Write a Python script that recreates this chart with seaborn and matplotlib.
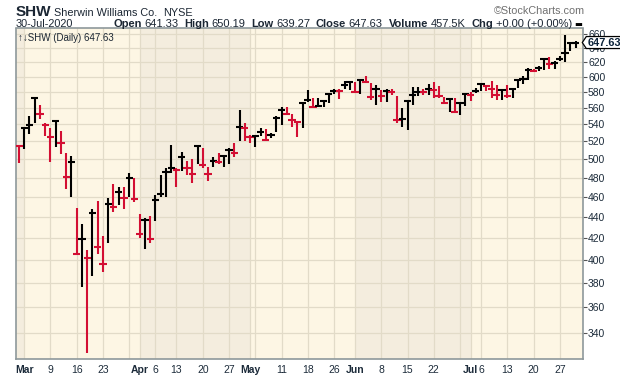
import matplotlib
matplotlib.use("Agg")
import numpy as np
import pandas as pd
import matplotlib.pyplot as plt
import seaborn as sns
from matplotlib.patches import Polygon

symbol = "SHW"
company = "Sherwin Williams Co."
exchange = "NYSE"
last_date = "30-Jul-2020"
last_open = 641.33
volume_text = "457.5K"
change_text = "+0.00 (+0.00%)"
prev_close = 520.0  # close before the first bar

highs = [515.1, 536.2, 550.3, 573.6, 563.9, 541.4, 535.4, 544.6, 532.2, 506.5,
         503.5, 448.6, 433.0, 408.7, 447.6, 455.7, 421.7, 458.4, 472.9, 470.4,
         469.7, 484.6, 479.5, 442.7, 438.5, 440.7, 461.8, 482.8, 490.0, 516.0,
         490.0, 507.6, 498.0, 500.2, 515.1, 512.2, 491.1, 502.8, 506.5, 504.7,
         512.2, 517.9, 557.6, 542.2, 527.6, 527.6, 535.4, 534.2, 530.2, 550.3,
         560.9, 561.7, 552.7, 543.4, 568.0, 582.9, 572.3, 572.3, 570.1, 578.7,
         584.2, 583.8, 595.1, 594.7, 593.8, 596.9, 601.3, 591.7, 589.5, 582.9,
         583.8, 583.8, 575.2, 559.7, 569.2, 586.4, 586.4, 583.8, 590.8, 593.8,
         588.1, 573.6, 572.3, 572.3, 568.0, 578.7, 580.0, 585.1, 591.7, 589.9,
         595.1, 589.9, 584.6, 589.1, 585.5, 596.4, 600.9, 612.0, 610.7, 614.4,
         625.8, 626.8, 621.2, 628.2, 659.0, 648.0, 650.19]

lows = [495.5, 511.0, 528.4, 542.2, 546.3, 526.7, 497.2, 513.3, 505.4, 468.3,
        460.1, 403.9, 376.3, 325.0, 386.1, 404.8, 389.5, 414.9, 444.6, 451.6,
        448.0, 460.1, 455.0, 419.5, 409.9, 414.9, 436.1, 460.1, 460.1, 485.2,
        470.4, 487.4, 482.8, 473.9, 494.7, 490.6, 476.7, 491.7, 494.7, 491.7,
        494.7, 502.8, 520.9, 520.9, 517.9, 514.0, 526.4, 520.9, 523.7, 531.4,
        539.4, 551.5, 537.4, 525.6, 536.2, 568.0, 559.7, 560.9, 560.9, 566.0,
        577.8, 571.0, 583.8, 582.9, 578.7, 577.4, 591.7, 570.1, 563.9, 568.0,
        568.0, 576.5, 542.2, 537.4, 533.4, 563.9, 575.2, 576.5, 576.5, 572.3,
        572.3, 565.1, 555.5, 554.3, 551.5, 562.6, 569.2, 578.7, 582.0, 581.2,
        572.7, 570.5, 570.5, 572.7, 572.7, 585.5, 590.8, 596.4, 606.2, 607.6,
        609.7, 611.1, 611.1, 621.2, 620.3, 635.2, 639.27]

closes = [514.8, 535.8, 539.4, 573.1, 553.1, 539.0, 525.6, 544.2, 518.6, 480.9,
          497.2, 405.1, 418.8, 401.5, 443.4, 411.7, 396.0, 453.0, 450.0, 465.2,
          458.4, 479.9, 457.7, 423.5, 436.5, 418.8, 456.7, 462.5, 486.3, 490.6,
          488.1, 502.8, 490.0, 483.5, 514.8, 493.6, 483.5, 498.0, 496.6, 503.9,
          510.2, 507.2, 537.4, 535.4, 524.9, 526.7, 531.4, 521.7, 527.6, 548.2,
          557.6, 552.7, 545.4, 542.6, 566.7, 570.1, 560.9, 563.0, 569.2, 577.8,
          582.0, 581.1, 589.5, 593.0, 580.7, 596.0, 593.8, 574.3, 583.8, 575.2,
          582.0, 580.0, 545.4, 546.6, 568.8, 576.5, 580.3, 580.0, 583.8, 582.9,
          575.2, 566.7, 571.4, 555.5, 566.7, 577.4, 576.5, 582.0, 590.8, 587.8,
          584.2, 576.9, 583.3, 574.8, 584.6, 595.6, 597.7, 609.7, 608.4, 612.0,
          624.8, 617.5, 618.9, 624.4, 632.8, 647.63, 647.63]

holidays = ["2020-04-10", "2020-05-25", "2020-07-03"]
price_ticks = list(range(340, 661, 20))

# trading calendar
dates = pd.bdate_range("2020-02-28", "2020-07-30")
dates = dates[~dates.isin(pd.to_datetime(holidays))]

df = pd.DataFrame({"date": dates, "high": highs, "low": lows, "close": closes})
df["idx"] = np.arange(len(df))
prev = df["close"].shift(1).fillna(prev_close)
df["direction"] = np.where(df["close"] < prev, "down", "up")

RED = "#D30F33"
colors = {"up": "black", "down": RED}

month_start = df.index[df["date"].dt.month != df["date"].shift(1).dt.month].tolist()
week_start = df.index[df["date"].dt.isocalendar().week.astype(int).diff().fillna(0) != 0].tolist()

sns.set_style("white")
plt.rcParams["font.family"] = ["Liberation Sans", "DejaVu Sans"]

W, H = 620, 376
fig = plt.figure(figsize=(6.2, 3.76), dpi=100)
ax = fig.add_axes([16 / W, 17 / H, 566.5 / W, 330.5 / H])
ax.set_yscale("log")
x0, x1 = -0.57, 107.33
ax.set_xlim(x0, x1)
ax.set_ylim(321.0, 668.1)

# month shading
light, dark = "#FDF6E4", "#F4EDDE"
bounds = [x0] + [i for i in month_start[1:]] + [x1]
for k in range(len(bounds) - 1):
    ax.axvspan(bounds[k], bounds[k + 1], color=dark if k % 2 == 0 else light, zorder=0, lw=0)

grid_c = "#E2DBC8"
for i in sorted(set(month_start[1:] + week_start)):
    ax.axvline(i, color=grid_c, lw=0.9, zorder=1)
for p in price_ticks:
    ax.axhline(p, color=grid_c, lw=0.9, zorder=1)

# OHLC-style bars
ax.vlines(df["idx"], df["low"], df["high"], colors=df["direction"].map(colors), lw=1.5, zorder=3)
sns.scatterplot(data=df, x="idx", y="close", hue="direction", palette=colors, marker="_",
                s=26, linewidth=1.5, legend=False, ax=ax, zorder=4)
ax.set_xlabel("")
ax.set_ylabel("")

# axes styling
for s in ax.spines.values():
    s.set_color("#8E989B")
    s.set_linewidth(1.2)
ax.yaxis.tick_right()
ax.yaxis.set_minor_locator(matplotlib.ticker.NullLocator())
ax.yaxis.set_minor_formatter(matplotlib.ticker.NullFormatter())
ax.set_yticks(price_ticks)
ax.set_yticklabels([str(p) for p in price_ticks])
ax.tick_params(axis="y", which="major", right=True, left=False, length=3, width=0.8,
               color="#555555", labelsize=7.5, pad=1, labelcolor="#1C2B3A")

labels_idx, labels_txt, is_month = [], [], []
for i in sorted(set(month_start[1:] + week_start)):
    d = df.loc[i, "date"]
    if i in month_start:
        labels_idx.append(i)
        labels_txt.append(d.strftime("%b"))
        is_month.append(True)
    else:
        if any(-1 <= m - i <= 2 for m in month_start[1:]):
            continue
        labels_idx.append(i)
        labels_txt.append(str(d.day))
        is_month.append(False)
ax.set_xticks(labels_idx)
ax.set_xticklabels(labels_txt)
for lab, m in zip(ax.get_xticklabels(), is_month):
    if m:
        lab.set_fontweight("bold")
ax.set_xticks(df["idx"], minor=True)
ax.tick_params(axis="x", which="major", length=3, width=0.8, color="#555555",
               labelsize=7.5, pad=1, labelcolor="#1C2B3A")
ax.tick_params(axis="x", which="minor", length=1.5, width=0.6, color="#777777")

# header
def fx(px):
    return px / W

def fy(py):
    return 1 - py / H

dark_txt = "#1B2633"
renderer = fig.canvas.get_renderer()
t = fig.text(fx(16), fy(16), symbol, fontsize=11, fontweight="bold", color=dark_txt)
xe = t.get_window_extent(renderer).x1
t = fig.text(xe / W + fx(3), fy(16), company, fontsize=7.8, color=dark_txt)
xe = t.get_window_extent(renderer).x1
fig.text(xe / W + fx(5), fy(16), exchange, fontsize=7.8, color=dark_txt)
fig.text(fx(585), fy(14), "\u00a9StockCharts.com", fontsize=7.8, color="#707070", ha="right")
fig.text(fx(16), fy(27), last_date, fontsize=7.8, color=dark_txt)

pieces = [("Open", True), (f"{last_open:.2f}", False), ("High", True), (f"{highs[-1]:.2f}", False),
          ("Low", True), (f"{lows[-1]:.2f}", False), ("Close", True), (f"{closes[-1]:.2f}", False),
          ("Volume", True), (volume_text, False), ("Chg", True), (change_text, False)]
x = fx(113)
for txt, bold in pieces:
    t = fig.text(x, fy(27), txt, fontsize=8, color=dark_txt, fontweight="bold" if bold else "normal")
    bb = t.get_window_extent(renderer)
    x = bb.x1 / W + (fx(2.5) if bold else fx(6))
fig.text(x - fx(3.5), fy(27), "\u25ac", fontsize=6, color="black", family=["DejaVu Sans"])

ax.text(0.004, 0.985, f"\u2191\u2193{symbol} (Daily) {closes[-1]:.2f}", transform=ax.transAxes,
        fontsize=7, color=dark_txt, va="top", ha="left", zorder=6,
        family=["Liberation Sans", "DejaVu Sans"])

# last price marker on the right axis
fig.canvas.draw()
lbl = fig.text(0, 0, f"{closes[-1]:.2f}", fontsize=7.8, fontweight="bold", color="#0B2239",
               ha="left", va="center", zorder=11)
yd = ax.transData.transform((0, closes[-1]))[1]
xd = ax.transAxes.transform((1, 0))[0] + 5
lbl.set_position((xd / W, yd / H))
bb = lbl.get_window_extent(fig.canvas.get_renderer())
pad = 1.2
xa, xb = bb.x0 - pad, bb.x1 + pad
ya, yb = yd - 6, yd + 6
poly = Polygon([(xa - 4, yd), (xa, yb), (xb, yb), (xb, ya), (xa, ya)], closed=True,
               transform=None, facecolor="white", edgecolor="black", lw=0.9, zorder=10)
fig.patches.append(poly)

fig.savefig("out.png", dpi=100)
